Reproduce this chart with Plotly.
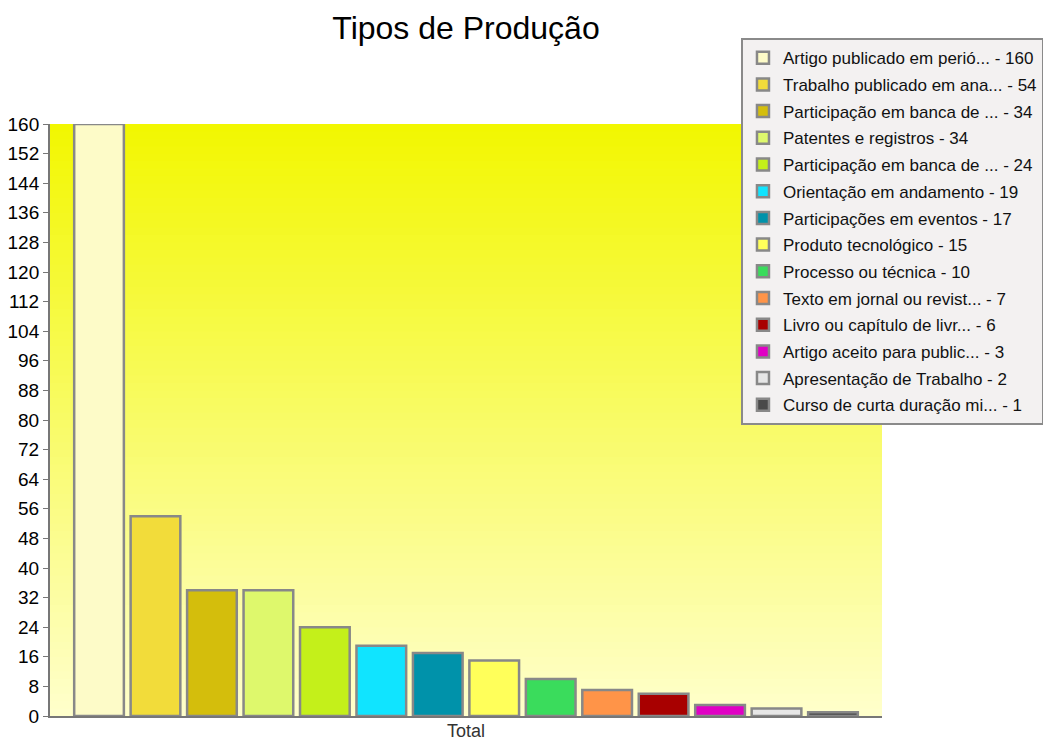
import plotly.graph_objects as go

categories = ["Total"]
names = [
    "Artigo publicado em perió...",
    "Trabalho publicado em ana...",
    "Participação em banca de ...",
    "Patentes e registros",
    "Participação em banca de ...",
    "Orientação em andamento",
    "Participações em eventos",
    "Produto tecnológico",
    "Processo ou técnica",
    "Texto em jornal ou revist...",
    "Livro ou capítulo de livr...",
    "Artigo aceito para public...",
    "Apresentação de Trabalho",
    "Curso de curta duração mi...",
]
values = [160, 54, 34, 34, 24, 19, 17, 15, 10, 7, 6, 3, 2, 1]
colors = [
    "#FDFBC8", "#F2DC3A", "#D4BE0C", "#DEF86C", "#C4F01A", "#10E4FF", "#0092AA",
    "#FFFF5A", "#3ADC5C", "#FF9448", "#A80000", "#E000C4", "#E6E6E6", "#4A4A4A",
]
y_ticks = list(range(0, 161, 8))

fig = go.Figure()
for i, (n, v, c) in enumerate(zip(names, values, colors)):
    fig.add_trace(go.Bar(
        x=categories, y=[v], name=f"{n} - {v}",
        marker=dict(color=c, line=dict(color="#888888", width=2.5)),
        legendgroup=f"g{i}",
    ))

# vertical gradient background of plot area
nb = 80
top = (242, 247, 0)
bot = (255, 255, 204)
shapes = []
for k in range(nb):
    t = (k + 0.5) / nb
    col = tuple(round(bot[j] + (top[j] - bot[j]) * t) for j in range(3))
    shapes.append(dict(type="rect", xref="paper", yref="paper", x0=0, x1=1,
                       y0=k / nb, y1=min(1.0, (k + 1) / nb + 0.004), layer="below",
                       line=dict(width=0), fillcolor="rgb(%d,%d,%d)" % col))

fig.update_layout(
    width=1043, height=732,
    margin=dict(l=42, r=169, t=116, b=24, autoexpand=False),
    paper_bgcolor="white", plot_bgcolor="rgba(0,0,0,0)",
    font=dict(family="Liberation Sans, Arial, sans-serif", size=15, color="black"),
    title=dict(text="Tipos de Produção", x=0.5, xref="paper", xanchor="center",
               y=0.9727, yanchor="middle", font=dict(size=32, color="black")),
    barmode="group", bargap=0.05, bargroupgap=0.12,
    shapes=shapes,
    showlegend=True,
    legend=dict(x=0.8305, y=1.145, xanchor="left", yanchor="top",
                bgcolor="#F3F1F1", bordercolor="#8A8A8A", borderwidth=2,
                font=dict(size=17, color="#111111"), tracegroupgap=1.6,
                traceorder="grouped", maxheight=650),
    xaxis=dict(showline=True, linecolor="#777777", linewidth=2,
               ticks="", showgrid=False, ticklabelstandoff=-3,
               tickfont=dict(size=18, color="#333333")),
    yaxis=dict(range=[0, 160], tickvals=y_ticks, showline=True, linecolor="#777777",
               linewidth=2, ticks="outside", ticklen=5, tickcolor="#777777",
               showgrid=False, zeroline=False, tickfont=dict(size=19, color="black")),
)
fig.write_html("out.html")
